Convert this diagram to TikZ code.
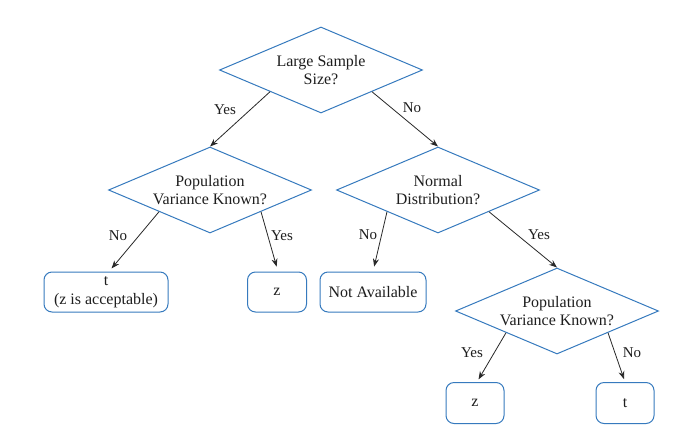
\documentclass[tikz,border=0pt]{standalone}
\usepackage{fontspec}
\setmainfont{Liberation Serif}
\usetikzlibrary{shapes.geometric,arrows.meta,calc}
\definecolor{dblue}{RGB}{54,122,190}
\definecolor{txt}{RGB}{30,30,30}
\definecolor{arr}{RGB}{40,40,40}
\begin{document}
\begin{tikzpicture}[x=1pt,y=-1pt,
  decision/.style={diamond, draw=dblue, line width=1pt, shape aspect=2.35,
    minimum width=203pt, minimum height=86pt, inner sep=0pt, align=center,
    font=\fontsize{16}{18}\selectfont, text=txt},
  leaf/.style={rectangle, rounded corners=8pt, draw=dblue, line width=1pt,
    minimum height=40pt, inner sep=0pt, align=center,
    font=\fontsize{16}{19}\selectfont, text=txt},
  conn/.style={draw=arr, line width=0.8pt, -{Stealth[length=8pt,width=6pt]}},
  lbl/.style={font=\fontsize{15}{17}\selectfont, text=txt, inner sep=0pt}]
\useasboundingbox (0,0) rectangle (684,434);
\fill[white] (0,0) rectangle (684,434);

% decisions
\node[decision] (d1) at (321,70) {Large Sample\\Size?};
\node[decision] (d2) at (210,190) {Population\\Variance Known?};
\node[decision] (d3) at (438,190) {Normal\\Distribution?};
\node[decision] (d4) at (557,311) {Population\\Variance Known?};

% leaves
\node[leaf, minimum width=124pt] (b1) at (106,292) {t\\(z is acceptable)};
\node[leaf, minimum width=59pt] (b2) at (277,292) {z};
\node[leaf, minimum width=106pt] (b3) at (373,292) {Not Available};
\node[leaf, minimum width=58pt, minimum height=41pt] (b4) at (475,403) {z};
\node[leaf, minimum width=58pt, minimum height=41pt] (b5) at (625,403) {t};

% connectors
\draw[conn] ($(d1.west)!0.5!(d1.south)$) -- (d2.north);
\draw[conn] ($(d1.east)!0.5!(d1.south)$) -- (d3.north);
\draw[conn, shorten >=4pt] ($(d2.west)!0.5!(d2.south)$) -- ($(b1.north)+(3,0)$);
\draw[conn, shorten >=5pt] ($(d2.east)!0.5!(d2.south)$) -- ($(b2.north)+(1,0)$);
\draw[conn, shorten >=5pt] ($(d3.west)!0.5!(d3.south)$) -- (b3.north);
\draw[conn] ($(d3.east)!0.5!(d3.south)$) -- (d4.north);
\draw[conn, shorten >=3pt] ($(d4.west)!0.5!(d4.south)$) -- ($(b4.north)+(2,0)$);
\draw[conn, shorten >=3pt] ($(d4.east)!0.5!(d4.south)$) -- (b5.north);

% labels
\node[lbl] (l1) at (225,110) {Yes};
\node[lbl] (l2) at (412,108) {No};
\node[lbl] (l3) at (118,236) {No};
\node[lbl] (l4) at (282,236) {Yes};
\node[lbl] (l5) at (368,235) {No};
\node[lbl] (l6) at (539,235) {Yes};
\node[lbl] (l7) at (472,353) {Yes};
\node[lbl] (l8) at (632,353) {No};
\end{tikzpicture}
\end{document}
